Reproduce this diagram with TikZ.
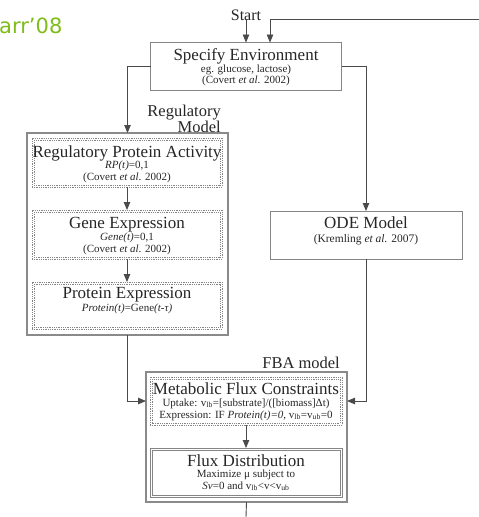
\documentclass[tikz,border=0pt]{standalone}
\usepackage{fontspec}
\setmainfont{Liberation Serif}
\newfontfamily\grfont{DejaVu Sans}
\usetikzlibrary{arrows.meta}
\definecolor{lncol}{HTML}{4A4A4A}
\definecolor{bxcol}{HTML}{8A8A8A}
\definecolor{inbox}{HTML}{858585}
\definecolor{txcol}{HTML}{262626}
\definecolor{grn}{HTML}{80BC1A}
\begin{document}
\begin{tikzpicture}[x=1pt,y=-1pt,
  conn/.style={draw=lncol,line width=0.9pt,-{Triangle[length=8pt,width=6.5pt]}},
  plainln/.style={draw=lncol,line width=0.9pt},
  outerbox/.style={draw=bxcol,line width=1.4pt,outer sep=0pt,inner sep=0pt},
  dotbox/.style={draw=inbox,line width=0.7pt,dash pattern=on 1pt off 0.8pt,outer sep=0pt,inner sep=0pt},
  dotln/.style={draw=inbox,line width=0.7pt,dash pattern=on 1pt off 0.8pt},
  thinbox/.style={draw=inbox,line width=0.7pt,outer sep=0pt,inner sep=0pt},
  thinln/.style={draw=inbox,line width=0.7pt},
  solidbox/.style={draw=inbox,line width=1pt,outer sep=0pt,inner sep=0pt},
  ttl/.style={font=\fontsize{17}{17}\selectfont,text=txcol,anchor=base,inner sep=0pt},
  sml/.style={font=\fontsize{11}{11}\selectfont,text=txcol,anchor=base,inner sep=0pt},
  lbl/.style={font=\fontsize{16.5}{16.5}\selectfont,text=txcol,inner sep=0pt}
]
\useasboundingbox (0,0) rectangle (479,517);

% corner logo text
\node[anchor=base west,inner sep=0pt,text=grn,font=\grfont\fontsize{21}{21}\selectfont] (logo) at (-1,33) {arr’08};

% start
\node[ttl,font=\fontsize{16}{16}\selectfont] (startlbl) at (246,20) {Start};

% boxes
\node[solidbox,minimum width=191pt,minimum height=48pt] (env) at (246,66.5) {};
\node[outerbox,minimum width=201pt,minimum height=202pt] (rm) at (127.5,234) {};
\node[dotbox,minimum width=190pt,minimum height=49pt] (rpa) at (127,162.5) {};
\node[dotbox,minimum width=190pt,minimum height=49pt] (ge) at (127,234.5) {};
\node[dotbox,minimum width=190pt,minimum height=47pt] (pe) at (127,305.5) {};
\node[solidbox,minimum width=192pt,minimum height=48pt] (ode) at (366,235) {};
\node[outerbox,minimum width=201pt,minimum height=130pt] (fba) at (246.5,437) {};
\node[dotbox,minimum width=192pt,minimum height=48pt] (mfc) at (246,401) {};
\node[thinbox,minimum width=192pt,minimum height=49pt] (fd) at (246,472.5) {};

% inner second frame lines
\foreach \b in {rpa,ge,pe,mfc}{
  \draw[dotln] ([xshift=2pt,yshift=-2pt]\b.north west) rectangle ([xshift=-2pt,yshift=2pt]\b.south east);
}
\draw[thinln] ([xshift=2pt,yshift=-2pt]fd.north west) rectangle ([xshift=-2pt,yshift=2pt]fd.south east);

% labels
\node[lbl,anchor=base east] (rmlbl1) at (221,116) {Regulatory};
\node[lbl,anchor=base east] (rmlbl2) at (221,132) {Model};
\node[lbl,anchor=base east] (fbalbl) at (340,368) {FBA model};

% texts
\node[ttl] (envt1) at (246,60) {Specify Environment};
\node[sml] (envt2) at (246,72) {eg. glucose, lactose)};
\node[sml] (envt3) at (246,83) {(Covert \textit{et al.} 2002)};

\node[ttl] (rpat1) at (127,157) {Regulatory Protein Activity};
\node[sml] (rpat2) at (127,168) {\textit{RP(t)}=0,1};
\node[sml] (rpat3) at (127,180) {(Covert \textit{et al.} 2002)};

\node[ttl] (get1) at (127,228) {Gene Expression};
\node[sml] (get2) at (127,240) {\textit{Gene(t)}=0,1};
\node[sml] (get3) at (127,252) {(Covert \textit{et al.} 2002)};

\node[ttl] (pet1) at (127,298) {Protein Expression};
\node[sml] (pet2) at (127,311) {\textit{Protein(t)}=Gene\textit{(t-τ)}};

\node[ttl] (odet1) at (366,228) {ODE Model};
\node[sml,font=\fontsize{11.5}{11.5}\selectfont] (odet2) at (366,242) {(Kremling \textit{et al.} 2007)};

\node[ttl] (mfct1) at (246,394) {Metabolic Flux Constraints};
\node[sml] (mfct2) at (246,406) {Uptake: v\textsubscript{lb}=[substrate]/([biomass]Δt)};
\node[sml] (mfct3) at (246,418) {Expression: IF \textit{Protein(t)=0}, v\textsubscript{lb}=v\textsubscript{ub}=0};

\node[ttl] (fdt1) at (246,466) {Flux Distribution};
\node[sml] (fdt2) at (246,477) {Maximize μ subject to};
\node[sml] (fdt3) at (246,489) {\textit{Sv}=0 and v\textsubscript{lb}<v<v\textsubscript{ub}};

% connectors
\coordinate (loopin) at (479,19);
\coordinate (loopturn) at (270,19);
\coordinate (bottomend) at (246,517);
\draw[conn] (startlbl.south) -- (startlbl.south |- env.north);
\draw[conn] (loopin) -- (loopturn) -- (loopturn |- env.north);
\draw[conn] (env.west) -| (rm.north);
\draw[conn] (env.east) -| (ode.north);
\draw[conn] (rpa.south) -- (ge.north);
\draw[conn] (ge.south) -- (pe.north);
\draw[conn] (rm.south) |- (fba.west |- mfc.west);
\draw[conn] (ode.south) |- (fba.east |- mfc.east);
\draw[conn] (mfc.south) -- (fd.north);
\draw[plainln] (fba.south) -- (bottomend);
\end{tikzpicture}
\end{document}
